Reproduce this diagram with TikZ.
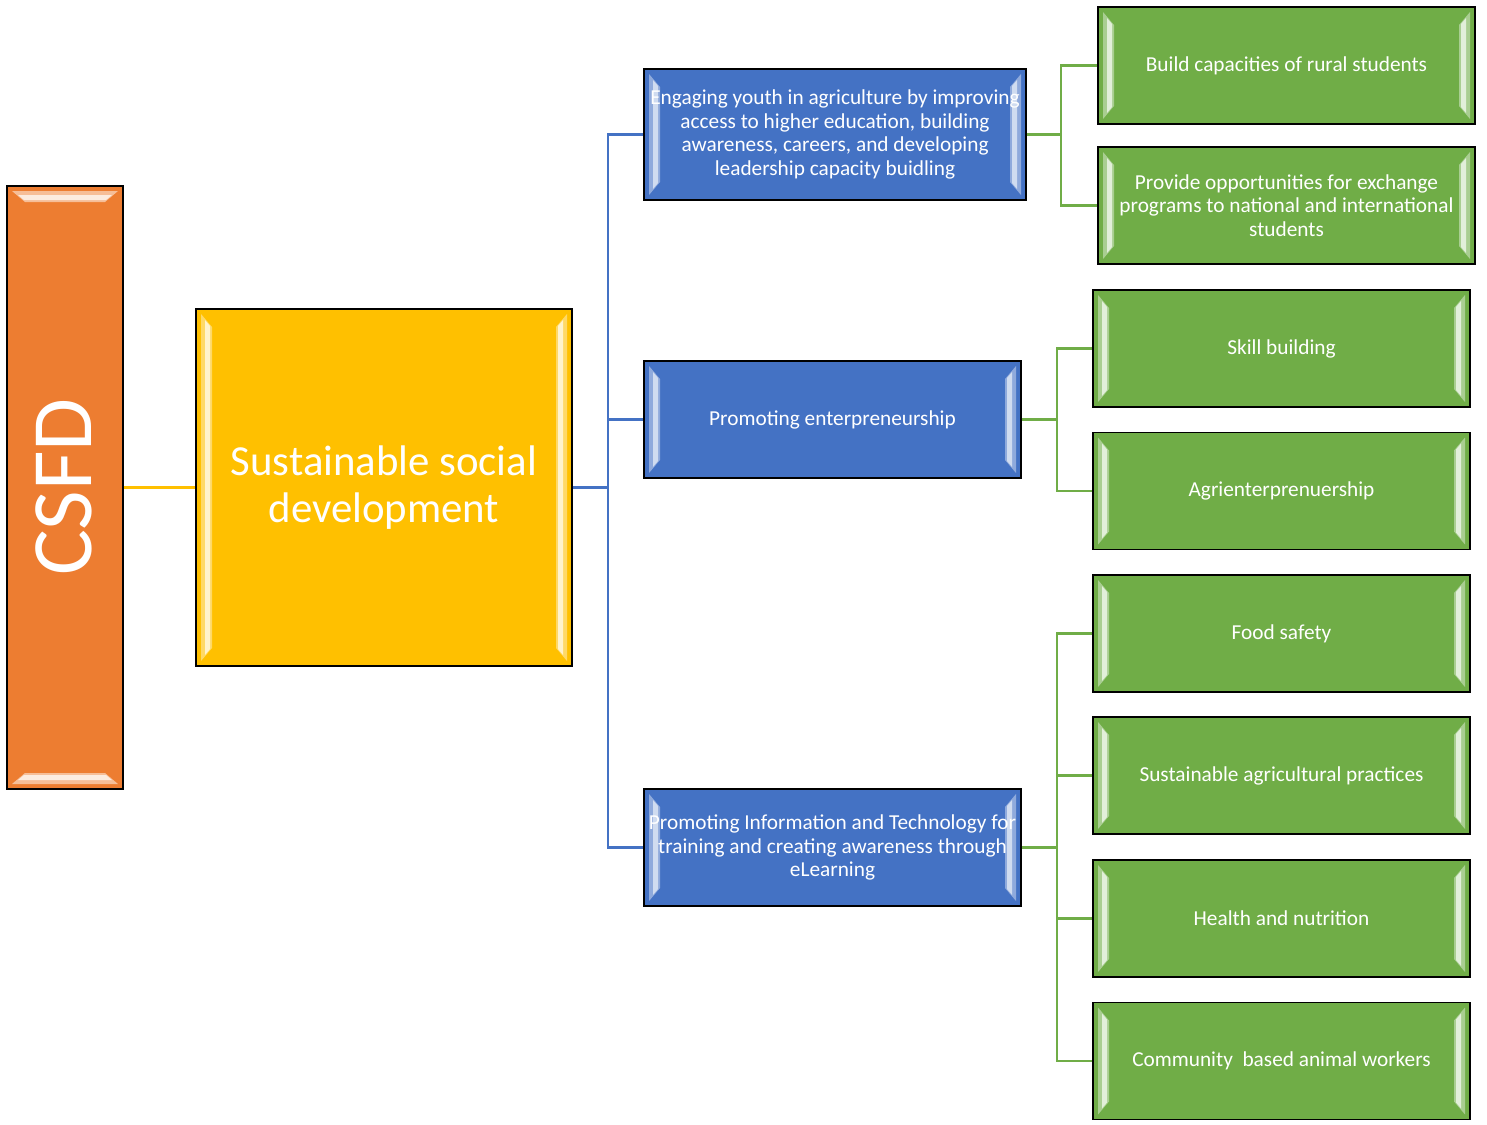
\documentclass[tikz,border=0pt]{standalone}
\usepackage{fontspec}
\setmainfont{Carlito}
\definecolor{gorange}{HTML}{ED7D31}
\definecolor{gyellow}{HTML}{FFC000}
\definecolor{gblue}{HTML}{4472C4}
\definecolor{ggreen}{HTML}{70AD47}
\tikzset{
  box/.style={draw=black, line width=1.6pt, inner sep=0pt, text=white, align=center},
  vbevel/.style 2 args={path picture={
    \fill[#1] ([shift={(5,5)}]path picture bounding box.north west) -- ([shift={(16,18)}]path picture bounding box.north west)
       -- ([shift={(16,-18)}]path picture bounding box.south west) -- ([shift={(5,-5)}]path picture bounding box.south west) -- cycle;
    \fill[#2] ([shift={(9,11)}]path picture bounding box.north west) -- ([shift={(14,17)}]path picture bounding box.north west)
       -- ([shift={(14,-17)}]path picture bounding box.south west) -- ([shift={(9,-11)}]path picture bounding box.south west) -- cycle;
    \fill[#1] ([shift={(-5,5)}]path picture bounding box.north east) -- ([shift={(-16,18)}]path picture bounding box.north east)
       -- ([shift={(-16,-18)}]path picture bounding box.south east) -- ([shift={(-5,-5)}]path picture bounding box.south east) -- cycle;
    \fill[#2] ([shift={(-9,11)}]path picture bounding box.north east) -- ([shift={(-14,17)}]path picture bounding box.north east)
       -- ([shift={(-14,-17)}]path picture bounding box.south east) -- ([shift={(-9,-11)}]path picture bounding box.south east) -- cycle;
  }},
  hbevel/.style 2 args={path picture={
    \fill[#1] ([shift={(5,5)}]path picture bounding box.north west) -- ([shift={(18,16)}]path picture bounding box.north west)
       -- ([shift={(-18,16)}]path picture bounding box.north east) -- ([shift={(-5,5)}]path picture bounding box.north east) -- cycle;
    \fill[#2] ([shift={(11,9)}]path picture bounding box.north west) -- ([shift={(17,14)}]path picture bounding box.north west)
       -- ([shift={(-17,14)}]path picture bounding box.north east) -- ([shift={(-11,9)}]path picture bounding box.north east) -- cycle;
    \fill[#1] ([shift={(5,-5)}]path picture bounding box.south west) -- ([shift={(18,-16)}]path picture bounding box.south west)
       -- ([shift={(-18,-16)}]path picture bounding box.south east) -- ([shift={(-5,-5)}]path picture bounding box.south east) -- cycle;
    \fill[#2] ([shift={(11,-9)}]path picture bounding box.south west) -- ([shift={(17,-14)}]path picture bounding box.south west)
       -- ([shift={(-17,-14)}]path picture bounding box.south east) -- ([shift={(-11,-9)}]path picture bounding box.south east) -- cycle;
  }},
  greenbox/.style={box, fill=ggreen, minimum width=377, minimum height=117, vbevel={ggreen!60!white}{ggreen!20!white},
    font=\fontsize{21.3}{23.7}\selectfont},
  bluebox/.style={box, fill=gblue, minimum height=117, vbevel={gblue!60!white}{gblue!25!white},
    font=\fontsize{21.3}{23.7}\selectfont},
  yline/.style={draw=gyellow, line width=2.2pt},
  bthick/.style={draw=gblue, line width=3pt},
  bthin/.style={draw=gblue, line width=2.2pt},
  gthick/.style={draw=ggreen, line width=3.5pt},
  gthin/.style={draw=ggreen, line width=2.2pt},
}
\begin{document}
\begin{tikzpicture}[x=1pt, y=-1pt]
\useasboundingbox (0,0) rectangle (1487,1124);
% left column
\node[box, fill=gorange, minimum width=116, minimum height=603, hbevel={gorange!50!white}{gorange!15!white}] (csfd) at (65,487.5) {};
\node[rotate=90, text=white, inner sep=0pt, font=\fontsize{86}{86}\selectfont] (csfdt) at (64,487) {CSFD};
\node[box, fill=gyellow, minimum width=376, minimum height=357, vbevel={gyellow!60!white}{gyellow!20!white},
  font=\fontsize{42.8}{47}\selectfont] (ssd) at (384,487.5) {Sustainable social\\development};
% blue column
\node[bluebox, minimum width=382, minimum height=131] (b1) at (835,134.5)
  {Engaging youth in agriculture by improving\\access to higher education, building\\awareness, careers, and developing\\leadership capacity buidling};
\node[bluebox, minimum width=377] (b2) at (832.5,419.5) {Promoting enterpreneurship};
\node[bluebox, minimum width=377] (b3) at (832.5,847.5)
  {Promoting Information and Technology for\\training and creating awareness through\\eLearning};
% green column
\node[greenbox] (g1) at (1286.5,65.5) {Build capacities of rural students};
\node[greenbox] (g2) at (1286.5,205.5) {Provide opportunities for exchange\\programs to national and international\\students};
\node[greenbox] (g3) at (1281.5,348.5) {Skill building};
\node[greenbox] (g4) at (1281.5,491) {Agrienterprenuership};
\node[greenbox] (g5) at (1281.5,633.5) {Food safety};
\node[greenbox] (g6) at (1281.5,775.5) {Sustainable agricultural practices};
\node[greenbox] (g7) at (1281.5,918.5) {Health and nutrition};
\node[greenbox] (g8) at (1281.5,1061) {Community\ \ based animal workers};
% connectors
\draw[yline] (csfd.east) -- (ssd.west);
\coordinate (bj) at (608,487.5);
\draw[bthick] (ssd.east) -- (bj);
\draw[bthin] (b1.west) -| (bj);
\draw[bthin] (b2.west) -| (bj);
\draw[bthin] (b3.west) -| (bj);
\coordinate (gj1) at (1061,134.5);
\draw[gthick] (b1.east) -- (gj1);
\draw[gthin] (g1.west) -| (gj1);
\draw[gthin] (g2.west) -| (gj1);
\coordinate (gj2) at (1057,419.5);
\draw[gthick] (b2.east) -- (gj2);
\draw[gthin] (g3.west) -| (gj2);
\draw[gthin] (g4.west) -| (gj2);
\coordinate (gj3) at (1057,847.5);
\draw[gthick] (b3.east) -- (gj3);
\draw[gthin] (g5.west) -| (gj3);
\draw[gthin] (g6.west) -| (gj3);
\draw[gthin] (g7.west) -| (gj3);
\draw[gthin] (g8.west) -| (gj3);
\end{tikzpicture}
\end{document}
